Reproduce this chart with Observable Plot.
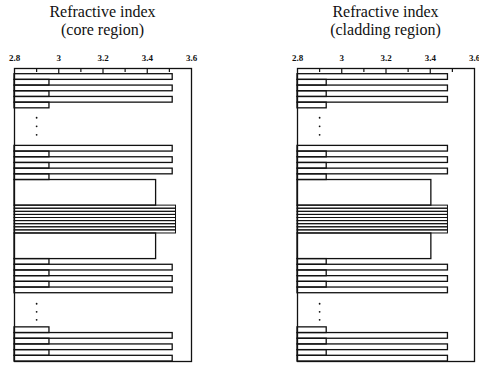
<!DOCTYPE html>
<html><head><meta charset="utf-8">
<script src="https://cdn.jsdelivr.net/npm/d3@7"></script>
<script src="https://cdn.jsdelivr.net/npm/@observablehq/plot@0.6"></script>
<style>
body{margin:0;background:#fff;}
#wrap{position:relative;width:479px;height:365px;overflow:hidden;background:#fff;}
.panel{position:absolute;top:0;width:200px;}
.title{height:46px;box-sizing:border-box;padding-top:3px;padding-left:5px;text-align:center;font-family:"Liberation Serif","DejaVu Serif",serif;font-size:16px;line-height:18px;color:#111;}
.panel svg{display:block;}
.panel svg text{font-family:"Liberation Serif",serif;}
</style>
</head><body>
<div id="wrap"></div>
<script>
// Layer stack, top to bottom
const layerKind = ["gap","high","low","high","low","high","low","gap",
  "high","low","high","low","high","low","core",
  "mqw","mqw","mqw","mqw","mqw","mqw","mqw","mqw","mqw",
  "core","low","high","low","high","low","high","gap",
  "low","high","low","high","low","high"];
const layerThickness = [1,1,1,1,1,1,1,6.6,
  1,1,1,1,1,1,4.5,
  0.544,0.544,0.544,0.544,0.544,0.544,0.544,0.544,0.544,
  4.5,1,1,1,1,1,1,6,
  1,1,1,1,1,1];
const coreRegionIndex = [null,3.515,2.958,3.515,2.958,3.515,2.958,null,
  3.515,2.958,3.515,2.958,3.515,2.958,3.44,
  3.53,3.53,3.53,3.53,3.53,3.53,3.53,3.53,3.53,
  3.44,2.958,3.515,2.958,3.515,2.958,3.515,null,
  2.958,3.515,2.958,3.515,2.958,3.515];
const claddingRegionIndex = [null,3.48,2.932,3.48,2.932,3.48,2.932,null,
  3.48,2.932,3.48,2.932,3.48,2.932,3.405,
  3.48,3.48,3.48,3.48,3.48,3.48,3.48,3.48,3.48,
  3.405,2.932,3.48,2.932,3.48,2.932,3.48,null,
  2.932,3.48,2.932,3.48,2.932,3.48];
// ellipsis dots (position in stack units, index value)
const dotDepth = [8.66,10.16,11.65,41.35,42.76,44.17];
const dotIndex = [2.9,2.9,2.9,2.9,2.9,2.9];
// axis
const xDomain = [2.8, 3.6];
const labelTicks = [2.8, 3, 3.2, 3.4, 3.6];
const majorTicks = [3.0, 3.2, 3.4];
const minorTicks = [2.9, 3.1, 3.3, 3.5];
const panelTitles = ["(core region)", "(cladding region)"];

const bottoms = d3.cumsum(layerThickness);
const depthTotal = bottoms[bottoms.length - 1];

function makePanel(sub, values, left) {
  const rows = layerKind.map((k, i) => ({
    kind: k, n: values[i], top: bottoms[i] - layerThickness[i], bottom: bottoms[i]
  })).filter(d => d.n != null);
  const dots = dotDepth.map((y, i) => ({y, x: dotIndex[i]}));
  const div = document.createElement("div");
  div.className = "panel";
  div.style.left = left + "px";
  const t = document.createElement("div");
  t.className = "title";
  t.innerHTML = "Refractive index<br>" + sub;
  div.appendChild(t);
  const svg = Plot.plot({
    width: 200, height: 318,
    marginLeft: 14, marginRight: 9, marginTop: 22, marginBottom: 3,
    style: {fontFamily: "Liberation Serif", background: "#fff", color: "#111"},
    x: {domain: xDomain},
    y: {domain: [0, depthTotal], reverse: true, axis: null},
    marks: [
      Plot.rect(rows, {x1: xDomain[0], x2: "n", y1: "top", y2: "bottom", stroke: "#111",
        strokeWidth: d => d.kind === "mqw" ? 1 : 1.3, fill: "none"}),
      Plot.dot(dots, {x: "x", y: "y", r: 0.9, fill: "#111", stroke: null}),
      Plot.frame({stroke: "#111", strokeWidth: 1.3}),
      Plot.axisX({anchor: "top", ticks: labelTicks, tickSize: 0, tickPadding: 8, tickFormat: d => String(d), fontSize: 9, fontWeight: "bold"}),
      Plot.axisX({anchor: "top", ticks: majorTicks, tickSize: -5, tickFormat: () => "", strokeWidth: 1.2}),
      Plot.axisX({anchor: "top", ticks: minorTicks, tickSize: -3, tickFormat: () => "", strokeWidth: 1.2})
    ]
  });
  div.appendChild(svg);
  return div;
}
const wrap = document.getElementById("wrap");
wrap.appendChild(makePanel(panelTitles[0], coreRegionIndex, 0));
wrap.appendChild(makePanel(panelTitles[1], claddingRegionIndex, 283));
</script>
</body></html>
